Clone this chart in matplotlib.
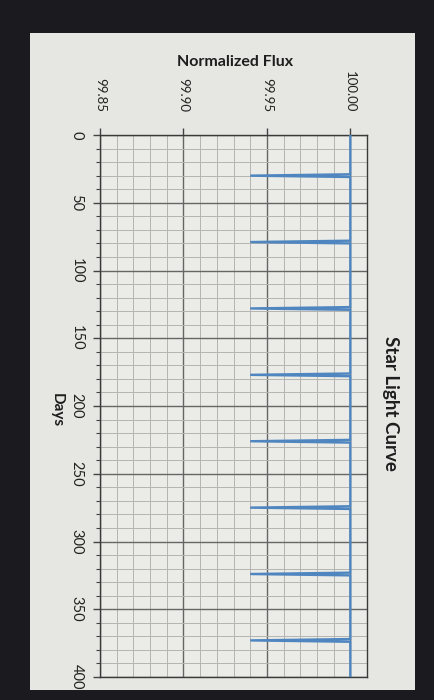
import matplotlib
matplotlib.use("Agg")
import matplotlib.pyplot as plt
from matplotlib.patches import Rectangle
from matplotlib.ticker import MultipleLocator

# ---- data ----
days = [0, 29, 30, 31, 78, 79, 80, 127, 128, 129, 176, 177, 178,
        225, 226, 227, 274, 275, 276, 323, 324, 325, 372, 373, 374, 400]
flux = [100.00, 100.00, 99.94, 100.00, 100.00, 99.94, 100.00,
        100.00, 99.94, 100.00, 100.00, 99.94, 100.00,
        100.00, 99.94, 100.00, 100.00, 99.94, 100.00,
        100.00, 99.94, 100.00, 100.00, 99.94, 100.00, 100.00]
flux_ticks = [99.85, 99.90, 99.95, 100.00]
flux_labels = ["99.85", "99.90", "99.95", "100.00"]
day_ticks = [0, 50, 100, 150, 200, 250, 300, 350, 400]
day_labels = [str(d) for d in day_ticks]
title = "Star Light Curve"
xlabel = "Days"
ylabel = "Normalized Flux"

plt.rcParams['font.family'] = ['Lato', 'DejaVu Sans']

W, H = 434, 700
fig = plt.figure(figsize=(W / 100, H / 100), dpi=100)
fig.patch.set_facecolor("#1b1b1f")

# light chart panel (photo of a screen)
fig.patches.append(Rectangle((30 / W, 1 - 690 / H), 385 / W, 657 / H,
                             transform=fig.transFigure, facecolor="#e6e6e2",
                             edgecolor="none", zorder=-5))

left, right = 100 / W, 367 / W
top, bottom = 1 - 135 / H, 1 - 677 / H
ax = fig.add_axes([left, bottom, right - left, top - bottom])
ax.set_zorder(2)
ax.set_facecolor("#ebebe7")

ax.plot(flux, days, color="#4f86c0", lw=1.7, zorder=3, solid_joinstyle="miter")

ax.set_xlim(99.85, 100.01)
ax.set_ylim(400, 0)

ax.xaxis.set_minor_locator(MultipleLocator(0.01))
ax.yaxis.set_minor_locator(MultipleLocator(10))
ax.set_xticks(flux_ticks)
ax.set_xticklabels(flux_labels)
ax.set_yticks(day_ticks)
ax.set_yticklabels(day_labels)

ax.xaxis.tick_top()
ax.tick_params(axis="x", which="major", length=5, width=1, color="#444444",
               labelsize=9.5, labelrotation=-90, pad=11.5, labelcolor="#222222")
ax.tick_params(axis="x", which="minor", length=0)
ax.tick_params(axis="y", which="major", length=5, width=1, color="#444444",
               labelsize=10.5, labelrotation=-90, pad=7, labelcolor="#222222")
ax.tick_params(axis="y", which="minor", length=3, width=0.8, color="#444444")
for lab in ax.get_xticklabels():
    lab.set_va("bottom")
for lab in ax.get_yticklabels():
    lab.set_ha("right")
    lab.set_va("center")

ax.grid(which="minor", color="#b4b4b0", lw=0.7)
ax.grid(which="major", color="#666666", lw=1.0)
ax.set_axisbelow(True)
for s in ax.spines.values():
    s.set_color("#3a3a3a")
    s.set_linewidth(1.0)

fig.text(235 / W, 1 - 62 / H, ylabel, ha="center", va="center",
         fontsize=11.5, fontweight="bold", color="#1e1e1e")
fig.text(57 / W, 1 - 410 / H, xlabel, ha="center", va="center", rotation=-90,
         fontsize=11, fontweight="bold", color="#1e1e1e")
fig.text(391 / W, 1 - 403 / H, title, ha="center", va="center", rotation=-90,
         fontsize=13.5, fontweight="bold", color="#1e1e1e")

fig.savefig("out.png", dpi=100, facecolor=fig.get_facecolor())
